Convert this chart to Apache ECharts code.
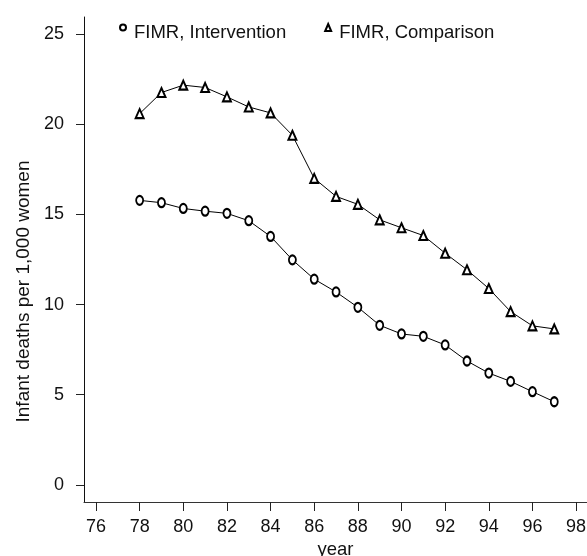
<!DOCTYPE html>
<html>
<head>
<meta charset="utf-8">
<script src="https://cdn.jsdelivr.net/npm/echarts@6/dist/echarts.min.js"></script>
<style>
  html, body { margin: 0; padding: 0; background: #fff; }
  #chart { width: 587px; height: 556px; }
</style>
</head>
<body>
<div id="chart"></div>
<script>
// years on the x axis
const years = [78, 79, 80, 81, 82, 83, 84, 85, 86, 87, 88, 89, 90, 91, 92, 93, 94, 95, 96, 97]
// FIMR values
const intervention = [15.78, 15.65, 15.33, 15.18, 15.06, 14.65, 13.78, 12.48, 11.41, 10.70,
  9.85, 8.85, 8.37, 8.24, 7.76, 6.87, 6.20, 5.74, 5.17, 4.61]
const comparison = [20.59, 21.76, 22.17, 22.04, 21.52, 20.96, 20.63, 19.39, 17.0, 16.0,
  15.56, 14.70, 14.26, 13.83, 12.85, 11.93, 10.89, 9.61, 8.82, 8.65]
const xTicks = [76, 78, 80, 82, 84, 86, 88, 90, 92, 94, 96, 98]
const yTicks = [0, 5, 10, 15, 20, 25]

const FONT = '"Liberation Sans", Arial, Helvetica, sans-serif'
const pairs = (ys) => years.map((x, i) => [x, ys[i]])

const chart = echarts.init(document.getElementById('chart'), null, { renderer: 'canvas' })

chart.setOption({
  animation: false,
  backgroundColor: '#fff',
  color: ['#000', '#000'],
  textStyle: { fontFamily: FONT, color: '#000' },
  grid: { left: 84, right: 0, top: 17, bottom: 54, containLabel: false, outerBoundsMode: 'none' },
  legend: {
    left: 114,
    top: 18,
    itemWidth: 6,
    itemHeight: 7,
    itemGap: 38,
    data: [
      { name: 'FIMR, Intervention', icon: 'emptyCircle' },
      { name: 'FIMR, Comparison', icon: 'emptyTriangle' },
    ],
    formatter: (name) => '{t|' + name + '}',
    textStyle: {
      fontFamily: FONT,
      fontSize: 18.5,
      color: '#111',
      rich: { t: { fontFamily: FONT, fontSize: 18.5, color: '#111', padding: [11, 0, 0, 3] } },
    },
    itemStyle: { borderWidth: 1 },
  },
  xAxis: {
    type: 'value',
    min: 75.45,
    max: 98.5,
    name: 'year',
    nameLocation: 'middle',
    nameGap: 32,
    nameTextStyle: { fontFamily: FONT, fontSize: 18.5, color: '#111' },
    axisLine: { show: true, onZero: false, lineStyle: { color: '#333', width: 1 } },
    axisTick: { show: true, length: 9, customValues: xTicks, lineStyle: { color: '#222' } },
    axisLabel: { customValues: xTicks, margin: 16, fontFamily: FONT, fontSize: 18, color: '#111' },
    splitLine: { show: false },
  },
  yAxis: {
    type: 'value',
    min: -0.95,
    max: 25.95,
    name: 'Infant deaths per 1,000 women',
    nameLocation: 'middle',
    nameRotate: 90,
    nameGap: 50,
    nameTextStyle: { fontFamily: FONT, fontSize: 19, color: '#111', padding: [0, 64, 0, 0] },
    axisLine: { show: true, onZero: false, lineStyle: { color: '#111', width: 1 } },
    axisTick: { show: true, length: 8, customValues: yTicks, lineStyle: { color: '#222' } },
    axisLabel: { customValues: yTicks, margin: 20, fontFamily: FONT, fontSize: 18, color: '#111' },
    splitLine: { show: false },
  },
  series: [
    {
      name: 'FIMR, Intervention',
      type: 'line',
      data: pairs(intervention),
      symbol: 'emptyCircle',
      symbolSize: [7, 9],
      showAllSymbol: true,
      lineStyle: { color: '#000', width: 1 },
      itemStyle: { color: '#000', borderWidth: 1 },
    },
    {
      name: 'FIMR, Comparison',
      type: 'line',
      data: pairs(comparison),
      symbol: 'emptyTriangle',
      symbolSize: [8, 9],
      showAllSymbol: true,
      lineStyle: { color: '#000', width: 1 },
      itemStyle: { color: '#000', borderWidth: 1 },
    },
  ],
})
</script>
</body>
</html>
